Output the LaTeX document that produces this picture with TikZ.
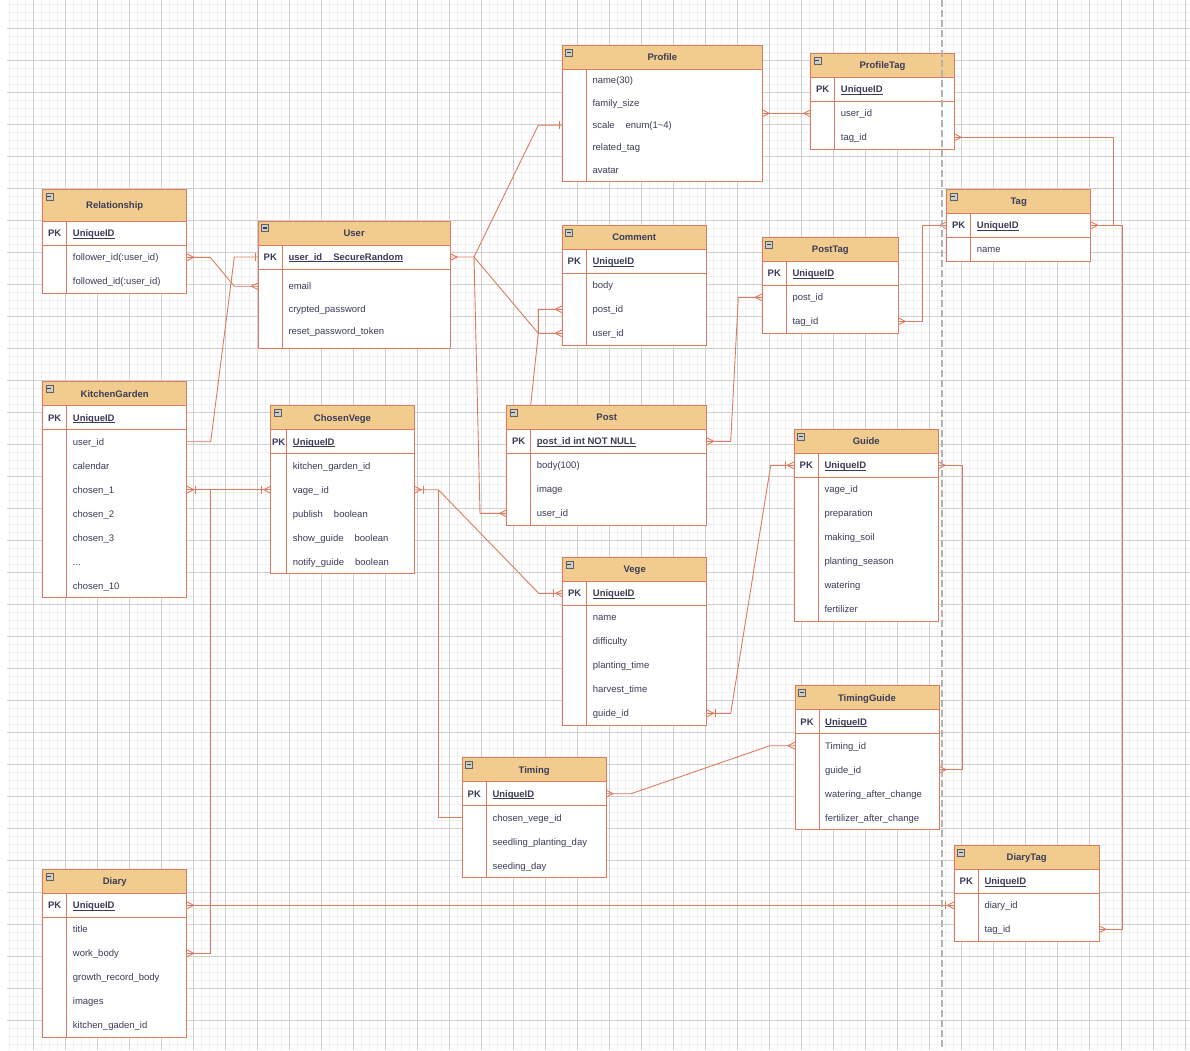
\documentclass[tikz,border=0pt]{standalone}
\usepackage{fontspec}
\setmainfont{Liberation Sans}
\definecolor{erfill}{HTML}{F2CC8F}
\definecolor{erline}{HTML}{E07A5F}
\definecolor{ertext}{HTML}{393C56}
\newcommand{\gap}{\hspace{11pt}}
\newsavebox{\pkbox}
\newcommand{\pkline}[1]{\sbox{\pkbox}{#1}\rlap{\rule[-1.7pt]{\wd\pkbox}{0.75pt}}\usebox{\pkbox}}

\tikzset{
  gridminor/.style={draw=gray!11, line width=0.5pt},
  gridmajor/.style={draw=gray!38, line width=0.6pt},
  pagebreak/.style={draw=gray!60, line width=1.9pt, dash pattern=on 6.5pt off 3.5pt},
  tbl/.style={draw=erline, line width=0.8pt},
  hdr/.style={draw=erline, fill=erfill, line width=0.8pt, inner sep=0pt, outer sep=0pt},
  rowbox/.style={inner sep=0pt, outer sep=0pt},
  ttl/.style={anchor=base, inner sep=0pt, text=ertext, font=\fontsize{9.5}{11}\selectfont\bfseries},
  pk/.style={anchor=base, inner sep=0pt, text=ertext, font=\fontsize{9.5}{11}\selectfont\bfseries},
  pkname/.style={anchor=base west, inner sep=0pt, text=ertext, font=\fontsize{9.5}{11}\selectfont\bfseries},
  attr/.style={anchor=base west, inner sep=0pt, text=ertext, font=\fontsize{9.5}{11}\selectfont},
  icon/.style={draw=gray!75!black, fill=gray!40, line width=0.4pt},
  iconbar/.style={draw=black!75, line width=1.1pt},
  conn/.style={draw=erline, line width=0.9pt},
  crowmany/.pic={\draw[conn] (0,-3.5) -- (7,0) -- (0,3.5);},
  crowone/.pic={\draw[conn] (3,-4) -- (3,4);},
  crowonemany/.pic={\draw[conn] (0,-3.5) -- (7,0) -- (0,3.5); \draw[conn] (9,-4) -- (9,4);}
}

% [settings]{id}{title}{x}{y}{width}{pk}{rows}
\newcommand{\ertable}[8][]{%
  \begingroup
  \def\tbhh{24}\def\tbsep{24}\def\tbrow{24}\def\tbpad{0}#1%
  \foreach \fld [count=\rr] in {#8} {\xdef\tbn{\rr}}%
  \pgfmathsetmacro\tbyh{#5+\tbhh}%
  \if\relax\detokenize{#7}\relax\def\tbpk{0}\else\def\tbpk{24}\fi
  \pgfmathsetmacro\tbyb{\tbyh+\tbpk}%
  \pgfmathsetmacro\tbye{\tbyb+2*\tbpad+\tbn*\tbrow}%
  \draw[tbl, fill=white] (#4,#5) rectangle (#4+#6,\tbye);
  \node[hdr, minimum width=#6, minimum height=\tbhh, anchor=north west] (#2) at (#4,#5) {};
  \node[ttl] at ([yshift=-3.4]#2.center) {#3};
  \draw[icon] (#4+3,#5+3.5) rectangle ++(7,7);
  \draw[iconbar] (#4+4.5,#5+7) -- ++(4,0);
  \if\relax\detokenize{#7}\relax\else
    \node[rowbox, minimum width=#6, minimum height=24, anchor=north west] (#2-pk) at (#4,\tbyh) {};
    \node[pk] at ([xshift=\tbsep/2, yshift=-3.4]#2-pk.west) {PK};
    \node[pkname] at ([xshift=\tbsep+6, yshift=-3.4]#2-pk.west) {\pkline{#7}};
    \draw[tbl] (#4,\tbyb) -- (#4+#6,\tbyb);
  \fi
  \draw[tbl] (#4+\tbsep,\tbyh) -- (#4+\tbsep,\tbye);
  \foreach \fld [count=\rr] in {#8} {
    \node[rowbox, minimum width=#6, minimum height=\tbrow, anchor=north west] (#2-\rr) at (#4,\tbyb+\tbpad+\rr*\tbrow-\tbrow) {};
    \node[attr] at ([xshift=\tbsep+6, yshift=-3.4]#2-\rr.west) {\fld};
  }
  \endgroup
}

\begin{document}
\begin{tikzpicture}[x=1pt,y=-1pt]
\useasboundingbox (0,0) rectangle (1190,1050);
\fill[white] (0,0) rectangle (1190,1050);

% grid
\foreach \gx in {9.5,17.5,...,1190} \draw[gridminor] (\gx,0) -- (\gx,1050);
\foreach \gy in {4,12,...,1050} \draw[gridminor] (7,\gy) -- (1190,\gy);
\foreach \gx in {33.5,65.5,...,1190} \draw[gridmajor] (\gx,0) -- (\gx,1050);
\foreach \gy in {28,60,...,1050} \draw[gridmajor] (7,\gy) -- (1190,\gy);

% tables
\ertable[\def\tbhh{32}]{rel}{Relationship}{42.7}{189.3}{144}{UniqueID}{follower\_id(:user\_id), followed\_id(:user\_id)}
\ertable[\def\tbrow{22.5}\def\tbpad{6}]{user}{User}{258.3}{221}{191.7}{user\_id\gap SecureRandom}{email, crypted\_password, reset\_password\_token}
\ertable[\def\tbrow{22.33}]{prof}{Profile}{562.3}{45.3}{200}{}{name(30), family\_size, scale\gap enum(1\textasciitilde4), related\_tag, avatar}
\ertable{pftag}{ProfileTag}{810.7}{53.3}{143.6}{UniqueID}{user\_id, tag\_id}
\ertable{tag}{Tag}{946.7}{189.3}{144}{UniqueID}{name}
\ertable{com}{Comment}{562.3}{225.3}{143.7}{UniqueID}{body, post\_id, user\_id}
\ertable{pt}{PostTag}{762.3}{237.3}{136}{UniqueID}{post\_id, tag\_id}
\ertable{kg}{KitchenGarden}{42.7}{381.7}{144}{UniqueID}{user\_id, calendar, chosen\_1, chosen\_2, chosen\_3, .{}.{}., chosen\_10}
\ertable[\def\tbsep{16}]{cv}{ChosenVege}{270.7}{405.7}{143.6}{UniqueID}{kitchen\_garden\_id, vage\_ id, publish\gap boolean, show\_guide\gap boolean, notify\_guide\gap boolean}
\ertable{post}{Post}{506.7}{405.3}{200}{post\_id int NOT NULL}{body(100), image, user\_id}
\ertable{vege}{Vege}{562.7}{557.3}{144}{UniqueID}{name, difficulty, planting\_time, harvest\_time, guide\_id}
\ertable{guide}{Guide}{794.3}{429.3}{144}{UniqueID}{vage\_id, preparation, making\_soil, planting\_season, watering, fertilizer}
\ertable{tg}{TimingGuide}{795}{685.7}{144}{UniqueID}{Timing\_id, guide\_id, watering\_after\_change, fertilizer\_after\_change}
\ertable{tim}{Timing}{462.3}{757.7}{143.7}{UniqueID}{chosen\_vege\_id, seedling\_planting\_day, seeding\_day}
\ertable{diary}{Diary}{42.7}{869.3}{144}{UniqueID}{title, work\_body, growth\_record\_body, images, kitchen\_gaden\_id}
\ertable{dt}{DiaryTag}{954.3}{845.3}{144.7}{UniqueID}{diary\_id, tag\_id}

% relations
\draw[conn] (rel-1.east) -- ++(23.5,0) -- ([xshift=-24]user-1.west) -- (user-1.west);
\pic at (rel-1.east) {crowmany};
\pic[rotate=180] at (user-1.west) {crowmany};

\draw[conn] (kg-1.east) -- ++(24,0) -- ([xshift=-24]user-pk.west) -- (user-pk.west);
\pic[rotate=180] at (user-pk.west) {crowone};

\draw[conn] (user-pk.east) -- ++(24,0) coordinate (ubend) -- ([xshift=-24]prof-3.west) -- (prof-3.west);
\draw[conn] (ubend) -- ([xshift=-24]com-3.west) -- (com-3.west);
\draw[conn] (ubend) -- ([xshift=-26.7]post-3.west) -- (post-3.west);
\pic at (user-pk.east) {crowmany};
\pic[rotate=180] at (prof-3.west) {crowone};
\pic[rotate=180] at (com-3.west) {crowmany};
\pic[rotate=180] at (post-3.west) {crowmany};

\draw[conn] ([xshift=24]post.north west) -- ([xshift=-24]com-3.west) -- ([xshift=-24]com-2.west) -- (com-2.west);
\pic[rotate=180] at (com-2.west) {crowmany};

\draw[conn] (post-pk.east) -- ++(24,0) -- ([xshift=-24]pt-1.west) -- (pt-1.west);
\pic at (post-pk.east) {crowmany};
\pic[rotate=180] at (pt-1.west) {crowmany};

\draw[conn] (pt-2.east) -- ++(24,0) |- (tag-pk.west);
\pic at (pt-2.east) {crowmany};
\pic[rotate=180] at (tag-pk.west) {crowmany};

\draw[conn] (prof-1.east |- pftag-1.west) -- (pftag-1.west);
\pic at (prof-1.east |- pftag-1.west) {crowmany};
\pic[rotate=180] at (pftag-1.west) {crowmany};

\draw[conn] (pftag-2.east) -- ++(159,0) |- (tag-pk.east);
\draw[conn] (dt-2.east) -- ++(23.3,0) |- (tag-pk.east);
\pic at (pftag-2.east) {crowmany};
\pic at (dt-2.east) {crowmany};
\pic at (tag-pk.east) {crowmany};

\draw[conn] (diary-pk.east) -- (dt-1.west);
\pic at (diary-pk.east) {crowmany};
\pic[rotate=180] at (dt-1.west) {crowonemany};

\draw[conn] (kg-3.east) -- (cv-2.west);
\draw[conn] (kg-3.east) -- ++(24,0) |- (diary-2.east);
\pic at (kg-3.east) {crowonemany};
\pic[rotate=180] at (cv-2.west) {crowonemany};
\pic at (diary-2.east) {crowmany};

\draw[conn] (cv-2.east) -- ++(24,0) coordinate (cvbend) -- ([xshift=-24]vege-pk.west) -- (vege-pk.west);
\draw[conn] (cvbend) |- (tim-1.west);
\pic at (cv-2.east) {crowonemany};
\pic[rotate=180] at (vege-pk.west) {crowonemany};

\draw[conn] (vege-5.east) -- ++(24,0) -- ([xshift=-23.6]guide-pk.west) -- (guide-pk.west);
\pic at (vege-5.east) {crowonemany};
\pic[rotate=180] at (guide-pk.west) {crowonemany};

\draw[conn] (guide-pk.east) -- ++(24,0) |- (tg-2.east);
\pic at (guide-pk.east) {crowmany};
\pic at (tg-2.east) {crowmany};

\draw[conn] (tim-pk.east) -- ++(25,0) -- ([xshift=-25]tg-1.west) -- (tg-1.west);
\pic at (tim-pk.east) {crowmany};
\pic[rotate=180] at (tg-1.west) {crowmany};

% page break line
\draw[pagebreak] (942.3,0) -- (942.3,1050);
\end{tikzpicture}
\end{document}
